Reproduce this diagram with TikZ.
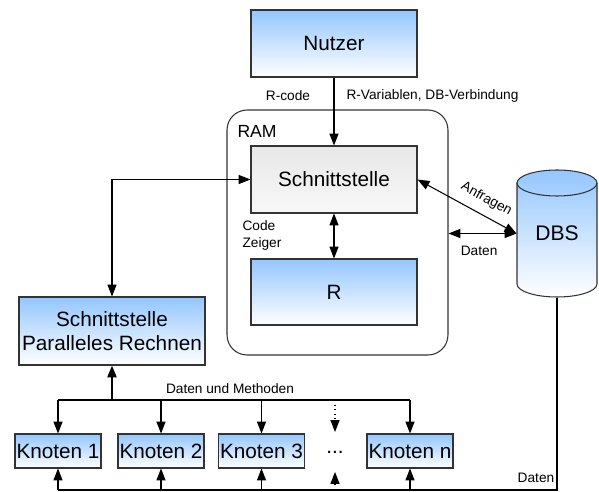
\documentclass[tikz,border=0pt]{standalone}
\usepackage{fontspec}
\setmainfont{Liberation Sans}
\usepackage{tikz}
\usetikzlibrary{arrows.meta,positioning}
\definecolor{BoxBlue}{HTML}{94C6FF}
\definecolor{BoxGray}{HTML}{E8E8E8}
\definecolor{LineGray}{HTML}{333333}
\tikzset{
  bluebox/.style={draw=LineGray,top color=BoxBlue,bottom color=white,inner sep=0pt,font=\fontsize{11.8}{13.6}\selectfont},
  graybox/.style={bluebox,top color=BoxGray,bottom color=white!97!black},
  knoten/.style={bluebox,minimum width=1.72cm,minimum height=0.68cm},
  lbl/.style={inner sep=0pt,font=\fontsize{7.8}{9.7}\selectfont}
}
\begin{document}
\begin{tikzpicture}[x=0.02cm,y=0.02cm,line width=0.6pt,>={Triangle[length=6.8pt,width=5.2pt]}]
  \useasboundingbox (0,0) rectangle (599,491);
  \node[bluebox,minimum width=3.32cm,minimum height=1.34cm] (nutzer) at (334,447.5) {Nutzer};
  \node[draw=LineGray,rounded corners=0.4cm,minimum width=4.42cm,minimum height=4.9cm] (ram) at (337.5,258.5) {};
  \node[anchor=west,inner sep=0pt,font=\fontsize{10}{12}\selectfont] (ramlbl) at (237,360) {RAM};
  \node[graybox,minimum width=3.32cm,minimum height=1.34cm] (schnitt) at (334,311.5) {Schnittstelle};
  \node[bluebox,minimum width=3.32cm,minimum height=1.32cm] (r) at (334,199) {R};
  \node[bluebox,align=center,minimum width=3.72cm,minimum height=1.36cm] (par) at (112,160) {Schnittstelle\\Paralleles Rechnen};
  \shade[draw=LineGray,top color=BoxBlue,bottom color=white] (517,308) -- (517,207)
    arc[start angle=180,end angle=360,x radius=0.8cm,y radius=0.26cm] -- (597,308)
    arc[start angle=0,end angle=180,x radius=0.8cm,y radius=0.26cm] -- cycle;
  \draw[LineGray] (517,308) arc[start angle=180,end angle=360,x radius=0.8cm,y radius=0.26cm];
  \node[minimum width=1.6cm,minimum height=2.54cm,inner sep=0pt,font=\fontsize{12}{14}\selectfont] (dbs) at (557,257.5) {DBS};
  \node[knoten] (k1) at (58,40) {Knoten 1};
  \node[knoten] (k2) at (161,40) {Knoten 2};
  \node[knoten] (k3) at (261.5,40) {Knoten 3};
  \node[inner sep=0pt,minimum height=0.78cm,font=\fontsize{11.8}{13.6}\selectfont] (dots) at (335,39) {...};
  \node[knoten] (kn) at (410,40) {Knoten n};
  \coordinate (bus) at (112,91);
  \coordinate (unten) at (58,1);

  \draw[->] (nutzer.south) -- (schnitt.north);
  \node[lbl] (rcode) at (288,395) {R-code};
  \node[lbl,anchor=west] (rvar) at (346,395) {R-Variablen, DB-Verbindung};
  \draw[<->] (schnitt.south) -- (r.north);
  \node[lbl,align=left,anchor=west] (zeiger) at (242,256) {Code\\Zeiger};
  \draw[<->] (schnitt.west) -| (par.north);
  \draw[<->] (schnitt.east) -- node[lbl,sloped,above=5pt,pos=0.62] {Anfragen} (dbs.west);
  \draw[<->] (ram.east |- dbs.west) -- node[lbl,below=7pt,pos=0.45] {Daten} (dbs.west);

  \draw[->,line width=1.2pt] (bus) -- (par.south);
  \draw (k1.north |- bus) -- (kn.north |- bus);
  \node[lbl] (methoden) at (230,102) {Daten und Methoden};
  \foreach \k in {k1,k2,k3,kn}
    \draw[->] (\k.north |- bus) -- (\k.north);
  \draw[->,dotted] (dots.north |- bus) -- (dots.north);

  \draw (dbs.south) |- (unten);
  \foreach \k in {k1,k2,k3,kn}
    \draw[->] (\k.south |- unten) -- (\k.south);
  \draw[->,dotted] (dots.south |- unten) -- (dots.south);
  \node[lbl] (datenunten) at (536,13) {Daten};
\end{tikzpicture}
\end{document}
